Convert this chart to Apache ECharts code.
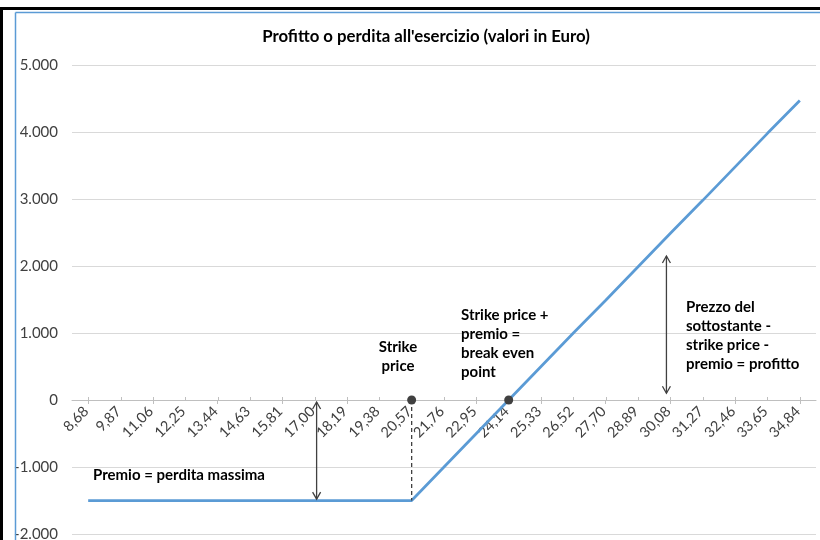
<!DOCTYPE html>
<html>
<head>
<meta charset="utf-8">
<script src="https://cdn.jsdelivr.net/npm/echarts@6/dist/echarts.min.js"></script>
<style>html,body{margin:0;padding:0;background:#fff;}#c{width:820px;height:540px;}</style>
</head>
<body>
<div id="c"></div>
<script>
// ---- data ----
const categories = ['8,68','9,87','11,06','12,25','13,44','14,63','15,81','17,00','18,19','19,38','20,57','21,76','22,95','24,14','25,33','26,52','27,70','28,89','30,08','31,27','32,46','33,65','34,84'];
const profit = [-1500,-1500,-1500,-1500,-1500,-1500,-1500,-1500,-1500,-1500,-1500,-1000,-500,0,500,1000,1490,1990,2490,2980,3480,3980,4470];
const yMin = -2000, yMax = 5000, yStep = 1000;
const keyPoints = [['20,57', 0], ['24,14', 0]];
const strikeDrop = { cat: '20,57', from: 0, to: -1500 };
const lossArrow = { cat: '17,00', from: -30, to: -1480 };
const profitArrow = { cat: '30,08', from: 2150, to: 100 };
const titleText = "Profitto o perdita all'esercizio (valori in Euro)";
const notes = [
  { text: 'Premio = perdita massima', x: 93, y: 475, align: 'left' },
  { text: 'Strike\nprice', x: 398, y: 357, align: 'center' },
  { text: 'Strike price +\npremio =\nbreak even\npoint', x: 461, y: 344, align: 'left' },
  { text: 'Prezzo del\nsottostante -\nstrike price -\npremio = profitto', x: 686, y: 336, align: 'left' }
];

const FONT = 'Lato';
const chart = echarts.init(document.getElementById('c'));
const fmt = v => { const s = Math.abs(v).toString().replace(/\B(?=(\d{3})+(?!\d))/g, '.'); return (v < 0 ? '-' : '') + s; };

chart.setOption({
  animation: false,
  textStyle: { fontFamily: FONT },
  title: { text: titleText, left: 421, textAlign: 'center', top: 23,
    textStyle: { fontFamily: FONT, fontWeight: 'bold', fontSize: 16.8, color: '#000' } },
  grid: { left: 72, right: 4, top: 65, bottom: 6, containLabel: false, outerBoundsMode: 'none' },
  xAxis: [{
    type: 'category', data: categories, boundaryGap: true,
    axisLine: { onZero: true, onZeroAxisIndex: 0, lineStyle: { color: '#bfbfbf', width: 1 } },
    axisTick: { show: true, alignWithLabel: true, length: 4, lineStyle: { color: '#bfbfbf' } },
    axisLabel: { show: false },
    splitLine: { show: false }
  }],
  yAxis: {
    type: 'value', min: yMin, max: yMax, interval: yStep,
    axisLine: { show: false }, axisTick: { show: false },
    axisLabel: { formatter: fmt, color: '#404040', fontSize: 15, fontFamily: FONT, margin: 14 },
    splitLine: { lineStyle: { color: '#d9d9d9', width: 1 } }
  },
  series: [{
    type: 'line', data: profit, showSymbol: false, symbol: 'none',
    lineStyle: { color: '#5b9bd5', width: 2.75 }, z: 3
  }]
});

function px(cat, val) { return chart.convertToPixel({ gridIndex: 0 }, [cat, val]); }
const g = [];
const dark = '#404040';
// frame
g.push({ type: 'rect', shape: { x: 0, y: 7, width: 820, height: 3 }, style: { fill: '#000' }, z: 10 });
g.push({ type: 'rect', shape: { x: 0, y: 7, width: 3, height: 533 }, style: { fill: '#000' }, z: 10 });
g.push({ type: 'line', shape: { x1: 15.5, y1: 12.5, x2: 820, y2: 12.5 }, style: { stroke: '#5b9bd5', lineWidth: 1.5 }, z: 10 });
g.push({ type: 'line', shape: { x1: 15.5, y1: 12.5, x2: 15.5, y2: 540 }, style: { stroke: '#5b9bd5', lineWidth: 1.5 }, z: 10 });
// category labels along the zero line (rotated 45°), plus upper half of cross ticks
categories.forEach(c => {
  const p = px(c, 0);
  g.push({ type: 'line', shape: { x1: Math.round(p[0]) + 0.5, y1: p[1] - 3, x2: Math.round(p[0]) + 0.5, y2: p[1] }, style: { stroke: '#bfbfbf', lineWidth: 1 }, z: 2 });
  g.push({ type: 'text', x: p[0] - 2, y: p[1] + 9, rotation: Math.PI / 4,
    style: { text: c, font: '14.5px ' + FONT, fill: '#404040', align: 'right', verticalAlign: 'middle' }, z: 2 });
});
// dashed strike drop
{
  const a = px(strikeDrop.cat, strikeDrop.from), b = px(strikeDrop.cat, strikeDrop.to);
  g.push({ type: 'line', shape: { x1: a[0], y1: a[1], x2: b[0], y2: b[1] }, style: { stroke: dark, lineWidth: 1.3, lineDash: [4, 3] }, z: 4 });
}
// double arrows
function dblArrow(spec, dx) {
  const a = px(spec.cat, spec.from), b = px(spec.cat, spec.to);
  const x = a[0] + dx;
  const top = Math.min(a[1], b[1]), bot = Math.max(a[1], b[1]);
  g.push({ type: 'line', shape: { x1: x, y1: top, x2: x, y2: bot }, style: { stroke: dark, lineWidth: 1.3 }, z: 5 });
  g.push({ type: 'polyline', shape: { points: [[x - 4, top + 7], [x, top], [x + 4, top + 7]] }, style: { stroke: dark, lineWidth: 1.3, fill: null }, z: 5 });
  g.push({ type: 'polyline', shape: { points: [[x - 4, bot - 7], [x, bot], [x + 4, bot - 7]] }, style: { stroke: dark, lineWidth: 1.3, fill: null }, z: 5 });
}
dblArrow(lossArrow, 2);
dblArrow(profitArrow, -4);
// key points
keyPoints.forEach(p => {
  const c = px(p[0], p[1]);
  g.push({ type: 'circle', shape: { cx: c[0], cy: c[1], r: 4.5 }, style: { fill: dark }, z: 6 });
});
// notes
notes.forEach(n => {
  g.push({ type: 'text', x: n.x, y: n.y, style: { text: n.text, font: 'bold 15px ' + FONT, fill: '#000', align: n.align, verticalAlign: 'middle', lineHeight: 19 }, z: 7 });
});
chart.setOption({ graphic: g });
</script>
</body>
</html>
